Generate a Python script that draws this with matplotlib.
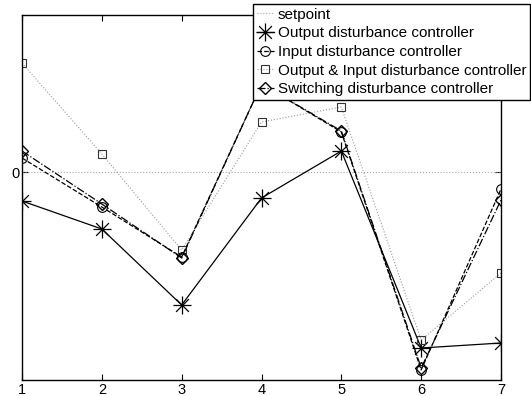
import matplotlib
matplotlib.use('Agg')
import matplotlib.pyplot as plt
from matplotlib.path import Path
import numpy as np

plt.rcParams['font.family'] = ['Liberation Sans', 'DejaVu Sans']

steps = [1, 2, 3, 4, 5, 6, 7]
setpoint = [0, 0, 0, 0, 0, 0, 0]
output_dist = [-0.29, -0.57, -1.33, -0.26, 0.21, -1.76, -1.71]
input_dist = [0.14, -0.35, -0.85, 0.88, 0.40, -1.98, -0.17]
out_in_dist = [1.09, 0.18, -0.78, 0.50, 0.65, -1.68, -1.01]
switching = [0.21, -0.32, -0.86, 0.88, 0.41, -1.96, -0.28]

labels = ['setpoint', 'Output disturbance controller', 'Input disturbance controller',
          'Output & Input disturbance controller', 'Switching disturbance controller']

# matlab style '*' marker: plus and cross together
d = 0.7071
star = Path([(-1, 0), (1, 0), (0, -1), (0, 1), (-d, -d), (d, d), (-d, d), (d, -d)],
            [Path.MOVETO, Path.LINETO] * 4)

fig = plt.figure(figsize=(5.31, 3.96), dpi=100)
ax = fig.add_axes([22/531, 1-380/396, (501-22)/531, (380-15)/396])

ax.plot(steps, setpoint, ':', color='0.65', linewidth=0.8, label=labels[0])
ax.plot(steps, output_dist, '-', color='k', linewidth=0.9, marker=star, markersize=13,
        markeredgewidth=0.9, label=labels[1])
ax.plot(steps, input_dist, '--', color='k', linewidth=0.9, marker='o', markersize=7,
        markerfacecolor='none', markeredgewidth=0.8, label=labels[2])
ax.plot(steps, out_in_dist, ':', color='0.6', linewidth=0.8, marker='s', markersize=6,
        markerfacecolor='none', markeredgecolor='0.2', markeredgewidth=0.8, label=labels[3])
ax.plot(steps, switching, '-.', color='k', linewidth=0.9, marker='D', markersize=6,
        markerfacecolor='none', markeredgewidth=1.0, label=labels[4])

ax.set_xlim(1, 7)
ax.set_ylim(-2.08, 1.57)
ax.set_xticks(steps)
ax.set_yticks([0])
ax.tick_params(direction='in', top=True, right=True, labelsize=10.5, length=4, pad=2)
for s in ax.spines.values():
    s.set_linewidth(1.0)

leg = ax.legend(loc='upper right', bbox_to_anchor=(530/531, 1-4/396),
                bbox_transform=fig.transFigure, fontsize=11, frameon=True, fancybox=False,
                handlelength=1.1, handletextpad=0.25, borderpad=0.25, labelspacing=0.3,
                borderaxespad=0, framealpha=1)
leg.get_frame().set_edgecolor('k')
leg.get_frame().set_linewidth(1.0)

fig.savefig('out.png', dpi=100)
